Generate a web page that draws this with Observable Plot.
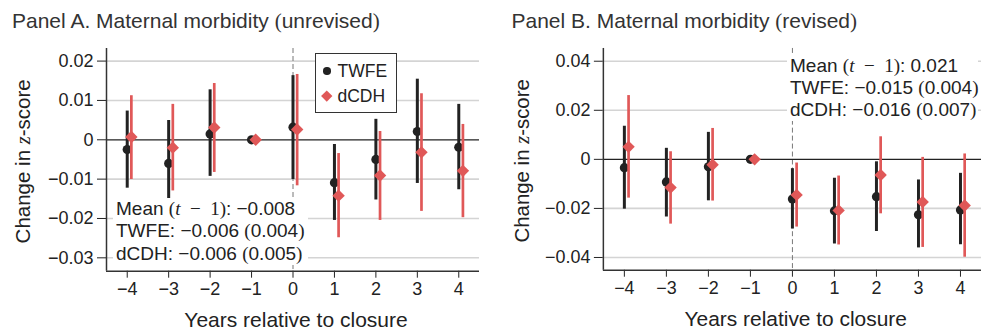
<!DOCTYPE html>
<html>
<head>
<meta charset="utf-8">
<script src="https://cdn.jsdelivr.net/npm/d3@7"></script>
<script src="https://cdn.jsdelivr.net/npm/@observablehq/plot@0.6"></script>
<style>
  body { margin: 0; background: #fff; }
  #fig { position: relative; width: 981px; height: 330px; overflow: hidden; background: #fff;
         font-family: "Liberation Sans", Arial, Helvetica, sans-serif; color: #222; }
  .title { position: absolute; top: 11px; font-size: 21px; line-height: 20px; color: #333; white-space: nowrap; }
  .panel { position: absolute; top: 40px; }
  .serif { font-family: "Liberation Serif", "Times New Roman", serif; }
  .note { position: absolute; background: #fff; font-size: 19px; line-height: 22.3px; white-space: nowrap; color: #222; }
  .legend { position: absolute; box-sizing: border-box; background: #fff; border: 1.5px solid #333; }
  .legend .lab { position: absolute; left: 21.5px; font-size: 17.5px; line-height: 20px; }
  .legend .sym { position: absolute; }
</style>
</head>
<body>
<div id="fig">
  <div class="title" style="left:12px">Panel A. Maternal morbidity <span class="serif">(</span>unrevised<span class="serif">)</span></div>
  <div class="title" style="left:511.5px">Panel B. Maternal morbidity <span class="serif">(</span>revised<span class="serif">)</span></div>
  <div id="panelA" class="panel" style="left:0px"></div>
  <div id="panelB" class="panel" style="left:495px"></div>
</div>
<script>
// Event-time grid
const years = [-4, -3, -2, -1, 0, 1, 2, 3, 4];

// Panel A — unrevised maternal morbidity: estimates and 95% CI bounds
const aTwfe   = [-0.0025, -0.0060, 0.0015, 0, 0.0032, -0.0109, -0.0050, 0.0021, -0.0019];
const aTwfeLo = [-0.0123, -0.0156, -0.0093, 0, -0.0101, -0.0205, -0.0153, -0.0111, -0.0127];
const aTwfeHi = [0.0073, 0.0049, 0.0127, 0, 0.0163, -0.0012, 0.0052, 0.0154, 0.0090];
const aDcdh   = [0.0007, -0.0020, 0.0031, 0, 0.0026, -0.0142, -0.0091, -0.0032, -0.0079];
const aDcdhLo = [-0.0101, -0.0130, -0.0083, 0, -0.0117, -0.0249, -0.0205, -0.0182, -0.0198];
const aDcdhHi = [0.0112, 0.0090, 0.0143, 0, 0.0166, -0.0035, 0.0021, 0.0117, 0.0039];
const aTicks  = [-0.03, -0.02, -0.01, 0, 0.01, 0.02];

// Panel B — revised maternal morbidity
const bTwfe   = [-0.0034, -0.0092, -0.0030, 0, -0.0162, -0.0210, -0.0152, -0.0226, -0.0206];
const bTwfeLo = [-0.0203, -0.0235, -0.0169, 0, -0.0284, -0.0345, -0.0294, -0.0361, -0.0348];
const bTwfeHi = [0.0135, 0.0045, 0.0110, 0, -0.0038, -0.0077, -0.0010, -0.0084, -0.0057];
const bDcdh   = [0.0051, -0.0115, -0.0022, 0, -0.0145, -0.0208, -0.0064, -0.0174, -0.0188];
const bDcdhLo = [-0.0158, -0.0264, -0.0170, 0, -0.0276, -0.0349, -0.0222, -0.0359, -0.0399];
const bDcdhHi = [0.0260, 0.0031, 0.0126, 0, -0.0015, -0.0068, 0.0092, 0.0008, 0.0022];
const bTicks  = [-0.04, -0.02, 0, 0.02, 0.04];

// Summary notes
const notesA = ["Mean (t − 1): −0.008", "TWFE: −0.006 (0.004)", "dCDH: −0.006 (0.005)"];
const notesB = ["Mean (t − 1): 0.021", "TWFE: −0.015 (0.004)", "dCDH: −0.016 (0.007)"];

const twfeColor = "#222222";
const dcdhColor = "#e05858";
const dodge = 0.1; // horizontal shift of the dCDH series

const rows = (est, lo, hi, shift) =>
  years.map((t, i) => ({t: t + shift, est: est[i], lo: lo[i], hi: hi[i]}));

const yFmt = d => d === 0 ? "0" : d3.format(".2f")(d);

function panel({width, marginLeft, marginRight, yDomain, yTicks, twfe, dcdh, ylabX, xlabX}) {
  const height = 290;
  const chart = Plot.plot({
    width, height,
    marginLeft, marginRight, marginTop: 8, marginBottom: 59.3,
    style: {fontFamily: "'Liberation Sans', Arial, sans-serif", fontSize: "18px", color: "#222", background: "transparent", overflow: "visible"},
    x: {domain: [-4.5, 4.5], ticks: years, tickFormat: d3.format("d"), tickSize: 7, tickPadding: 4, label: null},
    y: {domain: yDomain, ticks: yTicks, tickFormat: yFmt, tickSize: 9, tickPadding: 4, label: null},
    marks: [
      Plot.ruleY(yTicks.filter(d => d !== 0), {stroke: "#d4d4d4", strokeWidth: 1.6}),
      Plot.ruleX([0], {stroke: "#777", strokeWidth: 1, strokeDasharray: "5,3"}),
      Plot.ruleY([0], {stroke: "#222", strokeWidth: 1.3}),
      Plot.ruleX([-4.5], {stroke: "#333", strokeWidth: 1.5}),
      Plot.ruleY([yDomain[0]], {stroke: "#333", strokeWidth: 1.5}),
      Plot.ruleX(twfe, {x: "t", y1: "lo", y2: "hi", stroke: twfeColor, strokeWidth: 3}),
      Plot.dot(twfe, {x: "t", y: "est", r: 4.6, fill: twfeColor, stroke: "none"}),
      Plot.ruleX(dcdh, {x: "t", y1: "lo", y2: "hi", stroke: dcdhColor, strokeWidth: 2.7}),
      Plot.dot(dcdh, {x: "t", y: "est", r: 5.6, symbol: "diamond2", fill: dcdhColor, stroke: "none"})
    ]
  });
  const svg = d3.select(chart);
  const cy = (8 + (height - 59.3)) / 2 + 2;
  const yl = svg.append("text")
    .attr("transform", `translate(${ylabX},${cy}) rotate(-90)`)
    .attr("text-anchor", "middle").attr("dy", "0.35em")
    .attr("font-size", 20.5).attr("fill", "#222")
    .attr("font-family", "'Liberation Sans', Arial, sans-serif");
  yl.append("tspan").text("Change in ");
  yl.append("tspan").attr("font-family", "'Liberation Serif', serif").attr("font-style", "italic").text("z");
  yl.append("tspan").text("-score");
  svg.append("text")
    .attr("x", xlabX).attr("y", 287)
    .attr("text-anchor", "middle")
    .attr("font-size", 21).attr("fill", "#222")
    .attr("font-family", "'Liberation Sans', Arial, sans-serif")
    .text("Years relative to closure");
  return chart;
}

document.getElementById("panelA").appendChild(panel({
  width: 490, marginLeft: 106, marginRight: 11,
  yDomain: [-0.0334, 0.0232], yTicks: aTicks,
  twfe: rows(aTwfe, aTwfeLo, aTwfeHi, 0),
  dcdh: rows(aDcdh, aDcdhLo, aDcdhHi, dodge),
  ylabX: 23, xlabX: 296
}));
document.getElementById("panelB").appendChild(panel({
  width: 488, marginLeft: 108.3, marginRight: 0,
  yDomain: [-0.0452, 0.0452], yTicks: bTicks,
  twfe: rows(bTwfe, bTwfeLo, bTwfeHi, 0),
  dcdh: rows(bDcdh, bDcdhLo, bDcdhHi, dodge),
  ylabX: 26.5, xlabX: 302
}));

// Render a note line, setting "(t − 1)" and parentheses in a serif face
function noteLine(s) {
  const div = document.createElement("div");
  const parts = s.split(/(\(t − 1\)|\(|\))/);
  for (const p of parts) {
    if (!p) continue;
    const span = document.createElement("span");
    if (p === "(t − 1)") {
      span.className = "serif";
      span.innerHTML = "(<i>t</i>&#8194;−&#8194;1)";
    } else if (p === "(" || p === ")") {
      span.className = "serif";
      span.textContent = p;
    } else {
      span.textContent = p;
    }
    div.appendChild(span);
  }
  return div;
}
function addNote(lines, left, top, width) {
  const box = document.createElement("div");
  box.className = "note";
  Object.assign(box.style, {left: left + "px", top: top + "px", width: width + "px", paddingLeft: "3px"});
  lines.forEach(l => box.appendChild(noteLine(l)));
  document.getElementById("fig").appendChild(box);
}
addNote(notesA, 113, 198, 192);
addNote(notesB, 787, 54.5, 188);

// Series key for panel A
const legend = document.createElement("div");
legend.className = "legend";
Object.assign(legend.style, {left: "315px", top: "52.7px", width: "82px", height: "60px"});
legend.innerHTML = `
  <div class="sym" style="left:7px;top:13.5px;width:7.5px;height:7.5px;border-radius:50%;background:${twfeColor}"></div>
  <div class="lab" style="top:7px">TWFE</div>
  <div class="sym" style="left:7px;top:38.5px;width:7.5px;height:7.5px;transform:rotate(45deg);background:${dcdhColor}"></div>
  <div class="lab" style="top:32px">dCDH</div>`;
document.getElementById("fig").appendChild(legend);
</script>
</body>
</html>
